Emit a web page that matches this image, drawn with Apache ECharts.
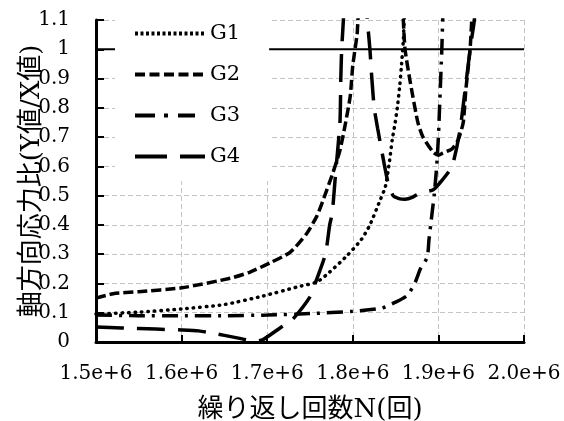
<!DOCTYPE html>
<html><head><meta charset="utf-8">
<script src="https://cdn.jsdelivr.net/npm/echarts@6/dist/echarts.min.js"></script>
<style>html,body{margin:0;padding:0;background:#fff}#c{width:564px;height:421px}</style>
</head><body><div id="c"></div>
<script>
// tick labels
const xTickLabels = ['1.5e+6','1.6e+6','1.7e+6','1.8e+6','1.9e+6','2.0e+6'];
const yTickLabels = ['0','0.1','0.2','0.3','0.4','0.5','0.6','0.7','0.8','0.9','1','1.1'];
const seriesNames = ['G1','G2','G3','G4'];
// series values [N, ratio]
const G1 = [[1.50e6,0.096],[1.55e6,0.102],[1.60e6,0.113],[1.65e6,0.128],[1.695e6,0.157],[1.735e6,0.188],[1.758e6,0.205],[1.773e6,0.239],[1.794e6,0.297],[1.81e6,0.35],[1.82e6,0.40],[1.832e6,0.485],[1.838e6,0.53],[1.843e6,0.62],[1.846e6,0.69],[1.849e6,0.74],[1.852e6,0.80],[1.855e6,0.88],[1.857e6,0.95],[1.859e6,1.03],[1.860e6,1.1],[1.861e6,1.2]];
const G2a = [[1.50e6,0.15],[1.52e6,0.165],[1.55e6,0.172],[1.60e6,0.185],[1.657e6,0.218],[1.68e6,0.239],[1.703e6,0.27],[1.727e6,0.307],[1.746e6,0.37],[1.758e6,0.43],[1.766e6,0.49],[1.777e6,0.58],[1.785e6,0.655],[1.791e6,0.74],[1.797e6,0.84],[1.800e6,0.945],[1.805e6,1.05],[1.806e6,1.1],[1.808e6,1.2]];
const G2b = [[1.857e6,1.2],[1.859e6,1.1],[1.861e6,1.0],[1.867e6,0.89],[1.876e6,0.75],[1.882e6,0.70],[1.894e6,0.648],[1.900e6,0.638],[1.905e6,0.645],[1.916e6,0.66],[1.923e6,0.69],[1.929e6,0.75],[1.932e6,0.86],[1.937e6,1.0],[1.939e6,1.1],[1.941e6,1.2]];
const G3 = [[1.50e6,0.092],[1.55e6,0.09],[1.60e6,0.09],[1.65e6,0.09],[1.70e6,0.092],[1.75e6,0.097],[1.80e6,0.105],[1.834e6,0.116],[1.85e6,0.136],[1.864e6,0.16],[1.873e6,0.205],[1.879e6,0.25],[1.887e6,0.29],[1.889e6,0.35],[1.891e6,0.40],[1.893e6,0.45],[1.895e6,0.50],[1.898e6,0.60],[1.900e6,0.70],[1.902e6,0.85],[1.904e6,1.0],[1.905e6,1.1],[1.906e6,1.2]];
const G4a = [[1.50e6,0.051],[1.53e6,0.048],[1.57e6,0.044],[1.60e6,0.041],[1.62e6,0.038],[1.635e6,0.031],[1.665e6,0.014],[1.675e6,0.008],[1.685e6,0.003],[1.695e6,0.008],[1.715e6,0.048],[1.729e6,0.075],[1.75e6,0.154],[1.756e6,0.2],[1.768e6,0.30],[1.773e6,0.40],[1.776e6,0.44],[1.780e6,0.58],[1.785e6,0.75],[1.786e6,0.9],[1.787e6,1.0],[1.789e6,1.1],[1.790e6,1.2]];
const G4b = [[1.815e6,1.2],[1.817e6,1.1],[1.820e6,1.0],[1.822e6,0.91],[1.825e6,0.80],[1.829e6,0.73],[1.834e6,0.65],[1.841e6,0.546],[1.847e6,0.50],[1.854e6,0.49],[1.861e6,0.488],[1.870e6,0.495],[1.879e6,0.51],[1.894e6,0.52],[1.905e6,0.555],[1.916e6,0.60],[1.925e6,0.72],[1.932e6,0.88],[1.938e6,1.02],[1.942e6,1.1],[1.944e6,1.2]];
const refLine = [[1.5e6,1],[2.0e6,1]];

const serif = '"DejaVu Serif", "Noto Sans CJK JP", serif';
const styles = {
  G1: {width:3.5, type:[0.5,6], cap:'round'},
  G2: {width:3.5, type:[10,4], cap:'butt'},
  G3: {width:3.5, type:[16,7,3,7], cap:'butt'},
  G4: {width:3.5, type:[28,13], cap:'butt'}
};
// legend icon segments (x ranges within a 70px wide, 4px tall sample)
const iconSegs = {
  G1: (function(){const s=[];for(let x=0;x<=66;x+=5.5)s.push([x,x+3]);return s;})(),
  G2: [[0,10],[14.5,24.5],[29,39],[43.5,53.5],[58,68]],
  G3: [[0,20],[29,33],[43,60]],
  G4: [[0,32],[45,70]]
};
function iconPath(segs){
  let p='';
  segs.forEach(s=>{p+='M'+s[0]+' 0L'+s[1]+' 0L'+s[1]+' 4L'+s[0]+' 4Z';});
  p+='M69.95 0L70 0L70 0.05L69.95 0.05Z';
  return 'path://'+p;
}
function mk(name, data){
  return {name:name, type:'line', data:data, symbol:'none', smooth:0.2, clip:true,
    lineStyle:Object.assign({color:'#000'}, styles[name]), itemStyle:{color:'#000'}, z:3};
}
const chart = echarts.init(document.getElementById('c'), null, {renderer:'canvas'});
chart.setOption({
  animation:false,
  backgroundColor:'#fff',
  grid:{left:96, right:40, top:20, bottom:79, containLabel:false, outerBoundsMode:'none'},
  legend:{
    data:seriesNames.map(n=>({name:n, icon:iconPath(iconSegs[n])})),
    orient:'vertical', left:115, top:16,
    padding:[5,29,12,20], itemGap:16, itemWidth:70, itemHeight:4,
    backgroundColor:'#fff', z:10,
    itemStyle:{color:'#000', borderWidth:0},
    textStyle:{fontFamily:serif, fontSize:21, color:'#000', lineHeight:25}
  },
  xAxis:{
    type:'value', min:1.5e6, max:2.0e6, interval:1e5,
    name:'繰り返し回数N(回)', nameLocation:'middle', nameGap:55, nameMoveOverlap:false,
    nameTextStyle:{fontFamily:serif, fontSize:26, color:'#000'},
    axisLine:{show:true, onZero:false, lineStyle:{color:'#000', width:3}},
    axisTick:{show:true, inside:true, length:7, lineStyle:{color:'#000', width:2}},
    axisLabel:{margin:22, fontFamily:serif, fontSize:20, color:'#000',
      alignMinLabel:'center', alignMaxLabel:'center', hideOverlap:false,
      formatter:function(v){return xTickLabels[Math.round((v-1.5e6)/1e5)];}},
    splitLine:{show:true, lineStyle:{color:'#c4c4c4', width:1, type:[5,3]}}
  },
  yAxis:{
    type:'value', min:0, max:1.1, interval:0.1,
    name:'軸方向応力比(Y値/X値)', nameLocation:'middle', nameGap:51, nameMoveOverlap:false,
    nameTextStyle:{fontFamily:serif, fontSize:26, color:'#000'},
    axisLine:{show:true, lineStyle:{color:'#000', width:3}},
    axisTick:{show:true, inside:true, length:8, lineStyle:{color:'#000', width:2}},
    axisLabel:{margin:26, fontFamily:serif, fontSize:20, color:'#000',
      formatter:function(v){return yTickLabels[Math.round(v*10)];}},
    splitLine:{show:true, lineStyle:{color:'#c4c4c4', width:1, type:[5,3]}}
  },
  series:[
    {name:'ref', type:'line', data:refLine, symbol:'none', lineStyle:{color:'#000', width:2}, z:2, silent:true},
    mk('G1', G1), mk('G2', G2a), mk('G2', G2b), mk('G3', G3), mk('G4', G4a), mk('G4', G4b)
  ]
});
</script></body></html>
